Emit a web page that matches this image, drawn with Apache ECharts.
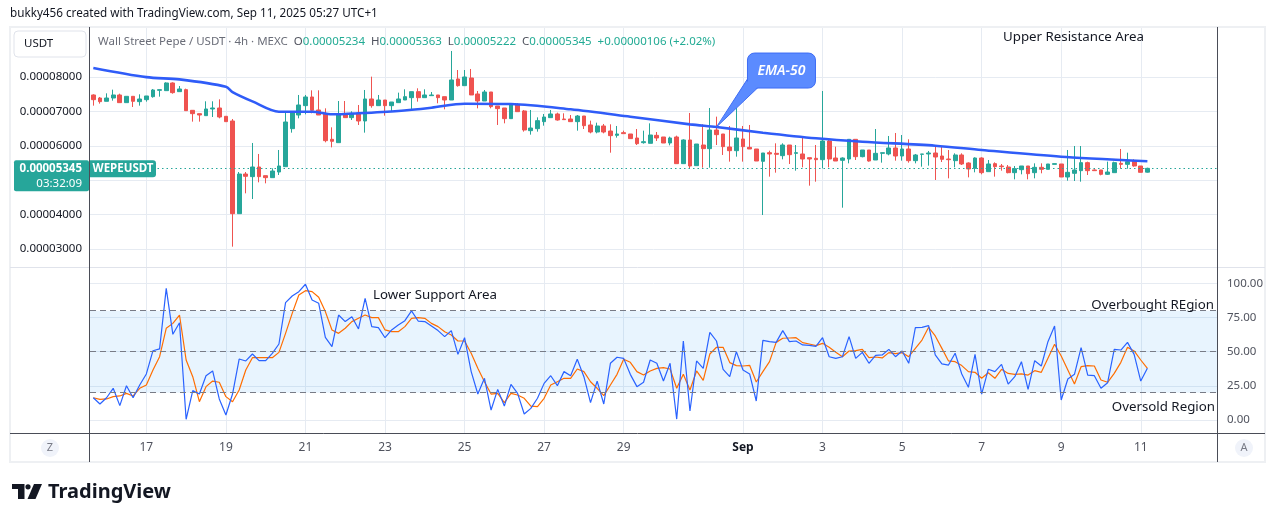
<!DOCTYPE html>
<html>
<head>
<meta charset="utf-8">
<script src="https://cdn.jsdelivr.net/npm/echarts@6.0.0/dist/echarts.min.js"></script>
<style>
  html, body { margin: 0; padding: 0; background: #fff; }
  #chart { width: 1281px; height: 522px; }
</style>
</head>
<body>
<div id="chart"></div>
<script>
// prices in units of 1e-8 USDT (5345 -> 0.00005345)
// one row per 4h candle, first candle Aug 15 16:00: [open, close, low, high]
const ohlc = [
  [7477,7341,7167,7496],[7389,7283,7225,7419],[7293,7389,7293,7525],[7389,7477,7312,7632],[7477,7254,7254,7515],
  [7254,7438,7254,7438],[7438,7293,7128,7438],[7283,7360,7167,7496],[7341,7448,7283,7448],[7428,7622,7399,7651],
  [7612,7632,7428,7632],[7603,7826,7603,7845],[7826,7545,7515,7845],[7574,7651,7574,7738],[7632,7021,7021,7661],
  [7031,6934,6702,7031],[6934,6895,6702,6934],[6876,7070,6876,7293],[7070,7099,6837,7293],[7099,6837,6798,7351],
  [6857,6702,6702,6857],[6721,4027,3068,6779],[4027,5180,4027,5238],[5180,5113,4618,5238],[5103,5384,4453,6082],
  [5384,5103,4938,5762],[5132,5074,4909,5132],[5074,5267,5074,5345],[5238,5413,5151,5878],[5393,6692,5393,6992],
  [6498,6973,6382,6992],[6895,7186,6798,7477],[7167,7419,6915,7477],[7419,7031,6944,7612],[7041,6895,6895,7612],
  [6924,6149,6101,7089],[6188,6130,5955,6537],[6091,6925,6091,7302],[6895,6818,6818,7302],[6818,6944,6750,7002],
  [6944,6721,6605,7186],[6721,7361,6382,7622],[7361,7167,7108,8010],[7167,7331,7167,7477],[7331,7167,6876,7331],
  [7167,7273,7012,7273],[7254,7361,7254,7545],[7331,7428,7331,7642],[7399,7574,7070,7574],[7574,7399,7283,7671],
  [7399,7477,7399,7642],[7457,7477,7457,7564],[7477,7399,7235,7477],[7428,7331,7060,7428],[7331,7913,7331,8756],
  [7942,7748,7719,8203],[7748,8000,7748,8203],[7971,7477,7477,8233],[7506,7302,7089,7593],[7302,7564,7302,7622],
  [7564,7138,7089,7564],[7157,7080,6605,7157],[7099,6789,6653,7099],[6789,7186,6789,7235],[7186,6992,6992,7235],
  [7012,6459,6411,7041],[6440,6517,6324,7041],[6498,6731,6411,6827],[6702,6837,6585,6925],[6818,6925,6818,7041],
  [6925,6750,6731,6963],[6779,6760,6760,6944],[6779,6702,6702,6895],[6702,6866,6440,6895],[6866,6585,6488,6866],
  [6605,6401,6362,6731],[6401,6576,6362,6672],[6576,6401,6362,6634],[6430,6295,5800,6624],[6304,6343,6237,6576],
  [6382,6353,6353,6440],[6343,6208,6208,6343],[6227,6062,6023,6488],[6091,6120,6062,6440],[6072,6314,6072,6653],
  [6304,6227,6140,6401],[6256,6081,6081,6256],[6081,6227,6014,6266],[6256,5481,5481,6295],[5481,6169,5481,6188],
  [6169,5413,5355,6954],[5423,6052,5423,6052],[6023,5917,5364,6624],[5917,6459,5364,7099],[6459,6324,6023,6847],
  [6343,5975,5733,6343],[5965,5858,5539,6576],[5858,6227,5684,7099],[6198,5975,5539,6576],[5955,5907,5907,6605],
  [5907,5558,5558,5907],[5549,5791,3988,5791],[5800,5762,5103,5858],[5781,5752,5219,6072],[5713,6023,5607,6072],
  [6023,5742,5471,6023],[5781,5800,5277,6023],[5762,5616,5374,6246],[5655,5616,4841,5655],[5636,5597,4957,6023],
  [5597,6140,5345,7593],[6140,5616,5374,6169],[5645,5558,5558,5975],[5578,5645,4201,5665],[5616,6188,5490,6188],
  [6188,5684,5587,6188],[5684,5878,5665,5878],[5878,5558,5539,5878],[5587,5781,5587,6488],[5781,5800,5510,5800],
  [5762,5936,5723,6285],[5936,5703,5568,6372],[5703,5907,5568,6314],[5907,5568,5510,6188],[5568,5733,5490,5762],
  [5752,5762,5393,5762],[5762,5791,5423,5849],[5791,5674,5006,5994],[5703,5607,5529,5994],[5616,5597,5054,5878],
  [5568,5733,5374,5781],[5733,5471,5442,5781],[5500,5326,5083,5519],[5345,5645,5229,5665],[5645,5219,5171,5665],
  [5248,5471,5248,5587],[5481,5393,5103,5519],[5413,5393,5277,5471],[5384,5219,5200,5442],[5219,5335,5025,5413],
  [5306,5413,5171,5413],[5413,5190,5025,5413],[5219,5374,5054,5490],[5374,5316,5200,5490],[5316,5471,5316,5471],
  [5461,5481,5461,5481],[5471,5093,5093,5471],[5093,5229,4986,5878],[5200,5297,4977,5994],[5277,5510,4957,5994],
  [5510,5277,5151,5539],[5297,5277,5277,5316],[5297,5171,5142,5297],[5171,5238,5151,5539],[5219,5510,5219,5539],
  [5490,5461,5335,5907],[5461,5539,5335,5800],[5568,5413,5393,5607],[5413,5229,5229,5413],[5234,5345,5222,5363]
];

// EMA-50: [candle index, value]
const emaPoints = [
  [0,8262],[8,7995],[13,7930],[20,7718],[21,7560],[24,7290],[28,6991],[33,6991],[36,6916],[40,6945],
  [46,7012],[51,7108],[56,7224],[63,7215],[72,7061],[81,6846],[90,6623],[94,6545],[101,6381],[109,6218],
  [116,6119],[127,6003],[134,5878],[146,5683],[159,5549]
];

// oscillator, blue (%K) and orange (%D), one value per candle
const stochK = [
  16.3,11.7,16.3,23.2,10.5,25.1,16.3,25.6,33.7,50.7, 52.0,96.3,62.7,71.2,0.5,21.5,19.0,32.4,35.9,15.4,
  3.7,19.0,44.6,43.2,48.3,43.4,43.4,48.8,55.6,85.9, 90.7,93.9,99.3,87.8,85.4,60.5,53.7,76.8,72.0,75.6,
  66.6,89.0,68.3,67.6,60.2,65.9,69.5,72.7,79.8,72.4, 72.0,68.8,65.4,61.0,65.4,48.0,60.2,35.4,19.0,30.5,
  7.3,22.4,10.2,26.1,19.5,4.4,8.5,15.9,26.8,32.4, 25.1,35.4,32.4,44.4,31.7,12.7,28.5,11.7,41.5,45.9,
  45.1,33.4,24.4,27.6,43.9,41.5,28.5,41.5,0.7,57.8, 6.6,43.2,37.8,64.1,57.8,37.1,31.7,50.0,36.6,33.7,
  13.9,58.3,57.3,56.8,65.4,57.3,57.8,54.9,54.6,53.9, 60.2,46.3,45.1,46.3,61.0,45.1,49.5,41.5,47.3,47.6,
  51.7,46.3,50.5,41.5,67.6,67.8,69.0,47.6,41.0,40.2, 48.8,33.7,23.9,48.0,19.0,37.1,35.4,40.7,26.3,31.7,
  42.7,22.4,43.4,39.5,57.3,68.8,14.6,30.0,33.4,52.9, 32.9,32.4,23.2,27.3,51.7,51.2,56.8,48.0,28.5,37.8
];
const stochD = [
  16.3,15.1,15.4,17.1,17.6,19.5,17.6,23.2,25.6,36.6, 46.3,67.1,70.7,76.8,43.9,31.7,13.4,24.4,28.5,27.6,
  17.1,13.4,22.0,36.6,45.6,45.6,45.6,45.6,49.5,63.4, 78.0,91.5,94.6,93.9,89.8,79.3,65.9,63.4,67.1,72.0,
  74.4,76.8,74.9,74.9,65.9,64.6,64.6,68.3,74.4,74.9, 74.4,70.7,68.3,64.6,62.2,57.8,57.8,48.8,37.8,28.0,
  19.0,19.5,12.7,19.5,18.3,15.9,10.2,9.8,15.9,25.6, 28.0,30.5,30.5,37.3,35.4,28.0,23.2,17.8,25.6,33.4,
  44.4,42.2,35.4,32.9,35.9,37.8,38.3,37.3,23.2,33.4, 22.0,35.9,29.0,48.3,53.2,53.2,42.0,39.8,39.5,40.0,
  27.8,35.4,42.7,56.8,59.8,60.0,60.2,56.6,55.6,54.4, 56.1,53.2,49.5,46.3,50.5,50.7,51.7,45.6,46.1,45.4,
  49.3,48.5,49.3,46.3,52.4,58.5,67.8,61.5,52.4,43.2, 42.7,39.8,35.4,34.9,30.5,34.6,30.5,37.1,34.1,33.4,
  33.7,32.9,36.1,34.9,45.1,55.4,46.8,36.6,26.3,39.0, 39.8,39.5,29.3,27.6,34.1,42.2,53.2,50.5,43.9,37.8
];

const priceTicks = [3000, 4000, 5000, 6000, 7000, 8000];
const oscTicks = [0, 25, 50, 75, 100];
const oscLevels = [80, 50, 20];
const dayTicks = ['08-17','08-19','08-21','08-23','08-25','08-27','08-29','09-01','09-03','09-05','09-07','09-09','09-11'];
const dayTickText = ['17','19','21','23','25','27','29','Sep','3','5','7','9','11'];
const lastClose = 5345;

const FONT = '"Noto Sans", "DejaVu Sans", sans-serif';

// 4h slots from the first candle to the right edge of the plot
const firstCandle = Date.UTC(2025, 7, 15, 16);
const slotCount = 170;
const categories = [];
for (let i = 0; i < slotCount; i++) {
  const d = new Date(firstCandle + i * 4 * 3600 * 1000);
  const mm = String(d.getUTCMonth() + 1).padStart(2, '0');
  const dd = String(d.getUTCDate()).padStart(2, '0');
  const hh = String(d.getUTCHours()).padStart(2, '0');
  categories.push(mm + '-' + dd + ' ' + hh);
}
const tickText = {};
dayTicks.forEach((d, i) => { tickText[d + ' 00'] = dayTickText[i]; });
const isDayTick = (idx, val) => tickText[val] !== undefined;

const gridColor = '#e6ebf2';

const chart = echarts.init(document.getElementById('chart'), null, {renderer: 'canvas'});

chart.setOption({
  animation: false,
  backgroundColor: '#ffffff',
  grid: [
    {left: 90, right: 64, top: 27, height: 240, outerBoundsMode: 'none'},
    {left: 90, right: 64, top: 268, height: 165, outerBoundsMode: 'none'}
  ],
  xAxis: [
    {
      type: 'category', gridIndex: 0, data: categories, boundaryGap: true,
      axisLine: {show: false}, axisTick: {show: false}, axisLabel: {show: false},
      splitLine: {show: true, interval: isDayTick, alignWithLabel: true, lineStyle: {color: gridColor}}
    },
    {
      type: 'category', gridIndex: 1, data: categories, boundaryGap: true,
      axisLine: {show: false}, axisTick: {show: false},
      axisLabel: {
        interval: isDayTick, margin: 9, color: '#50535e', fontSize: 12, fontFamily: FONT,
        formatter: v => tickText[v] === 'Sep' ? '{b|Sep}' : (tickText[v] || ''),
        rich: {b: {fontWeight: 'bold', color: '#131722', fontSize: 12, fontFamily: FONT}}
      },
      splitLine: {show: true, interval: isDayTick, alignWithLabel: true, lineStyle: {color: gridColor}}
    }
  ],
  yAxis: [
    {
      type: 'value', gridIndex: 0, position: 'left', min: 2477, max: 9453,
      axisLine: {show: false}, axisTick: {show: false, customValues: priceTicks},
      axisLabel: {customValues: priceTicks, margin: 8, color: '#131722', fontSize: 11.5, fontFamily: FONT,
        formatter: v => (v / 1e8).toFixed(8)},
      splitLine: {show: true, lineStyle: {color: gridColor}}
    },
    {
      type: 'value', gridIndex: 1, position: 'right', min: -9.5, max: 111.2,
      axisLine: {show: false}, axisTick: {show: false, customValues: oscTicks},
      axisLabel: {customValues: oscTicks, margin: 10, color: '#50535e', fontSize: 11.5, fontFamily: FONT,
        formatter: v => v.toFixed(2)},
      splitLine: {show: true, lineStyle: {color: gridColor}}
    }
  ],
  series: [
    {
      name: 'WEPEUSDT', type: 'candlestick', xAxisIndex: 0, yAxisIndex: 0,
      data: ohlc, barWidth: '64%',
      itemStyle: {color: '#26a69a', color0: '#ef5350', borderColor: '#26a69a', borderColor0: '#ef5350', borderWidth: 1},
      markLine: {
        silent: true, symbol: 'none', label: {show: false},
        lineStyle: {color: '#26a69a', type: [1.5, 3], width: 1},
        data: [{yAxis: lastClose}]
      }
    },
    {
      name: 'EMA-50', type: 'line', xAxisIndex: 0, yAxisIndex: 0,
      data: emaPoints, smooth: 0.3, symbol: 'none', z: 5,
      lineStyle: {color: '#2f5cf8', width: 2.6}
    },
    {
      name: '%K', type: 'line', xAxisIndex: 1, yAxisIndex: 1,
      data: stochK, symbol: 'none', z: 4,
      lineStyle: {color: '#2962ff', width: 1.2},
      markArea: {silent: true, itemStyle: {color: 'rgba(33,150,243,0.1)'}, data: [[{yAxis: 20}, {yAxis: 80}]]},
      markLine: {
        silent: true, symbol: 'none', label: {show: false},
        lineStyle: {color: '#787b86', type: [6, 4], width: 1},
        data: oscLevels.map(v => ({yAxis: v}))
      }
    },
    {
      name: '%D', type: 'line', xAxisIndex: 1, yAxisIndex: 1,
      data: stochD, symbol: 'none', z: 3,
      lineStyle: {color: '#ff6d00', width: 1.2}
    }
  ]
});

// overlays: frame, labels, annotations
const tagY = chart.convertToPixel({yAxisIndex: 0}, lastClose);
const emaAnchor = emaPoints[17];
const tip = chart.convertToPixel({gridIndex: 0}, [emaAnchor[0], emaAnchor[1]]);
const dark = '#4a4d57';
const noteFont = '13.3px ' + FONT;

chart.setOption({
  graphic: [
    {type: 'text', x: 10, y: 14, style: {text: 'bukky456 created with TradingView.com, Sep 11, 2025 05:27 UTC+1',
      fill: '#131722', font: '11.7px ' + FONT, verticalAlign: 'middle'}},
    {type: 'rect', z: 60, shape: {x: 10, y: 27, width: 1255, height: 435}, style: {fill: 'none', stroke: '#eef0f3', lineWidth: 2}},
    {type: 'line', z: 60, shape: {x1: 10, y1: 267.5, x2: 1265, y2: 267.5}, style: {stroke: '#e0e3eb', lineWidth: 1}},
    {type: 'line', z: 60, shape: {x1: 10, y1: 433.5, x2: 1265, y2: 433.5}, style: {stroke: dark, lineWidth: 1}},
    {type: 'line', z: 60, shape: {x1: 89.5, y1: 27, x2: 89.5, y2: 462}, style: {stroke: dark, lineWidth: 1}},
    {type: 'line', z: 60, shape: {x1: 1217.5, y1: 27, x2: 1217.5, y2: 462}, style: {stroke: dark, lineWidth: 1}},

    {type: 'rect', z: 60, shape: {x: 14, y: 31, width: 72, height: 26, r: 4}, style: {fill: '#fff', stroke: '#e0e3eb', lineWidth: 1}},
    {type: 'text', z: 61, x: 24, y: 44, style: {text: 'USDT', fill: '#131722', font: '11.5px ' + FONT, verticalAlign: 'middle'}},

    {type: 'text', z: 61, x: 98, y: 42, style: {
      text: '{n|Wall Street Pepe / USDT · 4h · MEXC}  {k|O}{v|0.00005234}  {k|H}{v|0.00005363}  {k|L}{v|0.00005222}  {k|C}{v|0.00005345}  {v|+0.00000106 (+2.02%)}',
      verticalAlign: 'middle', font: '11.5px ' + FONT,
      rich: {
        n: {fill: '#6a6d78', font: '11.5px ' + FONT},
        k: {fill: '#50535e', font: '11.5px ' + FONT},
        v: {fill: '#22ab94', font: '11.5px ' + FONT}
      }}},

    {type: 'rect', z: 70, shape: {x: 14, y: tagY - 8, width: 75, height: 31, r: 2}, style: {fill: '#26a69a'}},
    {type: 'text', z: 71, x: 82, y: tagY, style: {text: '0.00005345', fill: '#fff', font: 'bold 11.5px ' + FONT, align: 'right', verticalAlign: 'middle'}},
    {type: 'text', z: 71, x: 82, y: tagY + 15, style: {text: '03:32:09', fill: '#fff', font: '11.5px ' + FONT, align: 'right', verticalAlign: 'middle'}},
    {type: 'rect', z: 70, shape: {x: 90, y: tagY - 8, width: 66, height: 17, r: [0, 3, 3, 0]}, style: {fill: '#26a69a'}},
    {type: 'text', z: 71, x: 123, y: tagY + 0.5, style: {text: 'WEPEUSDT', fill: '#fff', font: 'bold 11.5px ' + FONT, align: 'center', verticalAlign: 'middle'}},

    {type: 'polygon', z: 70, shape: {points: [[tip[0], tip[1]], [tip[0] + 31, tip[1] - 48], [tip[0] + 42, tip[1] - 40]]},
      style: {fill: '#5b8bff', stroke: '#3d6cf5', lineWidth: 1}},
    {type: 'rect', z: 71, shape: {x: tip[0] + 31, y: tip[1] - 74, width: 68, height: 35, r: 7},
      style: {fill: '#5b8bff', stroke: '#3d6cf5', lineWidth: 1}},
    {type: 'polygon', z: 72, shape: {points: [[tip[0] + 2, tip[1] - 3], [tip[0] + 32, tip[1] - 47], [tip[0] + 41, tip[1] - 40]]},
      style: {fill: '#5b8bff'}},
    {type: 'text', z: 73, x: tip[0] + 65, y: tip[1] - 56, style: {text: 'EMA-50', fill: '#fff', font: 'italic 600 14px ' + FONT, align: 'center', verticalAlign: 'middle'}},

    {type: 'text', z: 61, x: 1003, y: 37, style: {text: 'Upper Resistance Area', fill: '#131722', font: noteFont, verticalAlign: 'middle'}},
    {type: 'text', z: 61, x: 373, y: 295, style: {text: 'Lower Support Area', fill: '#131722', font: noteFont, verticalAlign: 'middle'}},
    {type: 'text', z: 61, x: 1214, y: 305, style: {text: 'Overbought REgion', fill: '#131722', font: noteFont, align: 'right', verticalAlign: 'middle'}},
    {type: 'text', z: 61, x: 1215, y: 407, style: {text: 'Oversold Region', fill: '#131722', font: noteFont, align: 'right', verticalAlign: 'middle'}},

    {type: 'circle', z: 61, shape: {cx: 50, cy: 448, r: 9}, style: {fill: '#f0f3fa'}},
    {type: 'text', z: 62, x: 50, y: 448, style: {text: 'Z', fill: '#787b86', font: '11px ' + FONT, align: 'center', verticalAlign: 'middle'}},
    {type: 'circle', z: 61, shape: {cx: 1244, cy: 448, r: 9}, style: {fill: '#f0f3fa'}},
    {type: 'text', z: 62, x: 1244, y: 448, style: {text: 'A', fill: '#787b86', font: '11px ' + FONT, align: 'center', verticalAlign: 'middle'}},

    // TradingView logo
    {type: 'polygon', z: 61, shape: {points: [[12, 484], [24.5, 484], [24.5, 499], [18, 499], [18, 489], [12, 489]]}, style: {fill: '#131722'}},
    {type: 'circle', z: 61, shape: {cx: 28, cy: 486.8, r: 2.6}, style: {fill: '#131722'}},
    {type: 'polygon', z: 61, shape: {points: [[34, 484], [42, 484], [35.5, 499], [27.5, 499]]}, style: {fill: '#131722'}},
    {type: 'text', z: 61, x: 48, y: 492, style: {text: 'TradingView', fill: '#131722', font: 'bold 20px ' + FONT, verticalAlign: 'middle'}}
  ]
});
</script>
</body>
</html>
